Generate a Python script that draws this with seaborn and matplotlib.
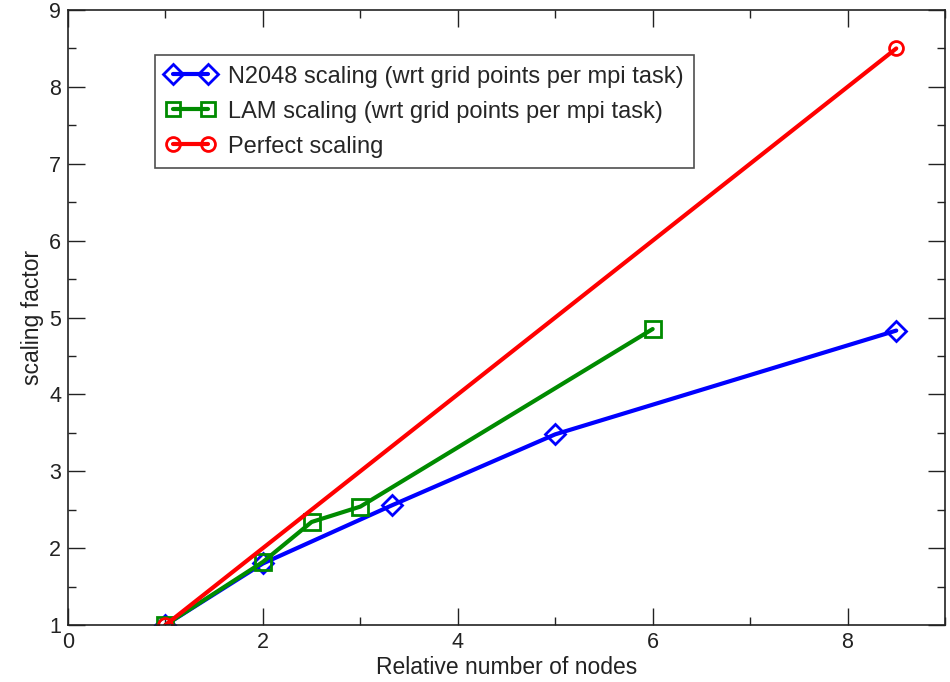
import matplotlib
matplotlib.use("Agg")
import matplotlib.pyplot as plt
import pandas as pd
import seaborn as sns
from matplotlib.ticker import MultipleLocator

sns.set_style("ticks")
plt.rcParams['font.family'] = ['Liberation Sans', 'DejaVu Sans']

# data
n2048_x = [1, 2, 3.33, 5, 8.5]
n2048_y = [1, 1.8, 2.56, 3.48, 4.83]
lam_x = [1, 2, 2.5, 3, 6]
lam_y = [1, 1.82, 2.34, 2.54, 4.85]
perfect_x = [1, 8.5]
perfect_y = [1, 8.5]

labels = ['N2048 scaling (wrt grid points per mpi task)',
          'LAM scaling (wrt grid points per mpi task)',
          'Perfect scaling']
colors = ['#0000ff', '#008b00', '#ff0000']
markers = ['D', 's', 'o']
msizes = [10, 11, 10]

df = pd.concat([
    pd.DataFrame({'x': n2048_x, 'y': n2048_y, 'series': labels[0]}),
    pd.DataFrame({'x': lam_x, 'y': lam_y, 'series': labels[1]}),
    pd.DataFrame({'x': perfect_x, 'y': perfect_y, 'series': labels[2]}),
])

fig = plt.figure(figsize=(9.5, 6.82), dpi=100)
ax = fig.add_axes([0.0716, 0.0836, 0.9231, 0.9017])

for lab, c, m, ms in zip(labels, colors, markers, msizes):
    sub = df[df['series'] == lab]
    sns.lineplot(data=sub, x='x', y='y', ax=ax, color=c, marker=m,
                 markersize=ms, linewidth=3,
                 markerfacecolor='none', markeredgecolor=c,
                 markeredgewidth=2, label=lab, legend=False, sort=False)

ax.set(xlim=(0, 9), ylim=(1, 9))
ax.xaxis.set_major_locator(MultipleLocator(2))
ax.xaxis.set_minor_locator(MultipleLocator(1))
ax.yaxis.set_major_locator(MultipleLocator(1))
ax.yaxis.set_minor_locator(MultipleLocator(0.5))
ax.tick_params(which='both', direction='in', top=True, right=True,
               labelsize=15.5, width=1, colors='#222222')
ax.tick_params(which='major', length=12, pad=5)
ax.tick_params(which='minor', length=6)
for s in ax.spines.values():
    s.set_linewidth(1.2)
    s.set_color('#222222')

ax.set_xlabel('Relative number of nodes', fontsize=16.5, labelpad=2,
              color='#222222')
ax.set_ylabel('scaling factor', fontsize=16.5, labelpad=4,
              color='#222222')

leg = ax.legend(loc='upper left', bbox_to_anchor=(0.099, 0.927),
                numpoints=2, handlelength=2.1, fontsize=17,
                frameon=True, fancybox=False, edgecolor='#222222',
                borderpad=0.45, labelspacing=0.55, handletextpad=0.55,
                borderaxespad=0)
leg.get_frame().set_linewidth(1.2)
for h in leg.legend_handles:
    h.set_markersize(10)

fig.savefig('out.png', dpi=100)
